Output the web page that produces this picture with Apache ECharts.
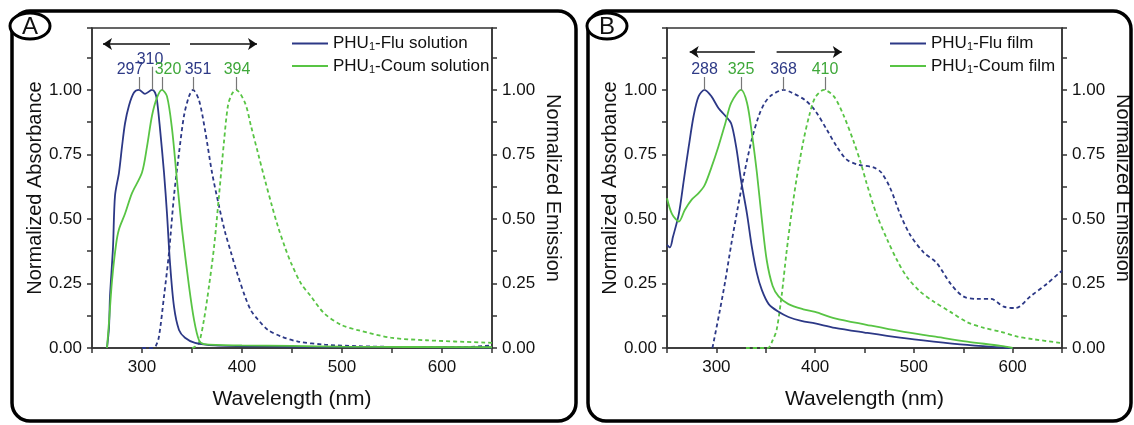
<!DOCTYPE html>
<html>
<head>
<meta charset="utf-8">
<script src="https://cdn.jsdelivr.net/npm/echarts@6/dist/echarts.min.js"></script>
<style>
html, body { margin: 0; padding: 0; background: #fff; }
#chart { width: 1134px; height: 425px; }
</style>
</head>
<body>
<div id="chart"></div>
<script>
// --- data: [wavelength nm, normalized value] ---
// panel A, solution
var fluSolAbs = [[265,0],[267,0.08],[268,0.2],[271,0.39],[273,0.59],[277,0.68],[280,0.78],[283,0.87],[287,0.94],[292,0.99],[297,1.0],[303,0.985],[310,1.0],[313,0.99],[315,0.96],[318,0.85],[322,0.68],[325,0.52],[328,0.33],[332,0.16],[337,0.07],[343,0.04],[353,0.02],[373,0.01],[420,0.006],[500,0.004],[650,0.002]];
var coumSolAbs = [[265,0],[267,0.1],[270,0.26],[274,0.4],[277,0.46],[283,0.52],[290,0.6],[300,0.68],[305,0.78],[310,0.9],[315,0.97],[320,1.0],[325,0.975],[330,0.85],[335,0.65],[340,0.46],[347,0.24],[352,0.11],[357,0.03],[362,0.015],[400,0.01],[450,0.008],[500,0.005],[650,0.003]];
var fluSolEm = [[300,0],[310,0],[314,0.01],[317,0.045],[322,0.2],[327,0.37],[332,0.59],[337,0.755],[342,0.9],[347,0.975],[351,1.0],[357,0.96],[363,0.845],[370,0.68],[377,0.55],[383,0.45],[389,0.37],[396,0.28],[403,0.2],[409,0.145],[416,0.11],[426,0.07],[439,0.045],[456,0.025],[483,0.013],[516,0.007],[560,0.004],[620,0.003],[650,0.01]];
var coumSolEm = [[350,0],[353,0.005],[357,0.02],[362,0.11],[367,0.24],[372,0.39],[377,0.59],[382,0.8],[386,0.94],[390,0.985],[394,1.0],[403,0.95],[409,0.86],[416,0.755],[423,0.65],[430,0.55],[436,0.47],[443,0.39],[449,0.33],[459,0.25],[469,0.2],[482,0.135],[499,0.09],[517,0.068],[549,0.04],[584,0.03],[650,0.02]];
// panel B, film
var fluFilmAbs = [[250,0.4],[253,0.39],[256,0.43],[262,0.52],[267,0.65],[272,0.78],[277,0.9],[282,0.975],[288,1.0],[295,0.975],[302,0.93],[309,0.9],[315,0.87],[320,0.78],[325,0.65],[331,0.52],[336,0.39],[341,0.29],[346,0.225],[353,0.17],[363,0.14],[373,0.12],[386,0.105],[400,0.095],[420,0.078],[450,0.06],[486,0.04],[520,0.025],[554,0.012],[588,0.002],[600,0]];
var coumFilmAbs = [[250,0.58],[255,0.52],[262,0.49],[268,0.535],[275,0.575],[282,0.6],[288,0.63],[295,0.7],[302,0.78],[309,0.87],[315,0.95],[325,1.0],[331,0.95],[336,0.83],[341,0.68],[346,0.5],[351,0.34],[357,0.24],[363,0.2],[373,0.17],[388,0.15],[400,0.14],[420,0.115],[452,0.09],[486,0.065],[520,0.045],[554,0.025],[588,0.008],[600,0]];
var fluFilmEm = [[296,0],[303,0.135],[309,0.26],[315,0.4],[322,0.55],[329,0.69],[336,0.81],[343,0.9],[349,0.95],[356,0.98],[368,1.0],[376,0.99],[390,0.96],[400,0.92],[412,0.845],[422,0.78],[432,0.73],[444,0.71],[459,0.7],[467,0.68],[476,0.62],[486,0.52],[496,0.44],[510,0.37],[523,0.33],[537,0.25],[550,0.2],[564,0.19],[578,0.19],[591,0.16],[603,0.155],[618,0.2],[635,0.25],[650,0.3]];
var coumFilmEm = [[330,0],[352,0],[357,0.03],[361,0.07],[366,0.2],[371,0.37],[376,0.52],[381,0.65],[388,0.8],[394,0.9],[400,0.97],[409,1.0],[419,0.975],[429,0.9],[439,0.8],[446,0.72],[452,0.64],[462,0.52],[473,0.42],[483,0.34],[493,0.275],[506,0.22],[520,0.18],[537,0.14],[554,0.1],[571,0.078],[588,0.063],[604,0.045],[621,0.034],[648,0.02]];

// peak annotations
var peaksA = [297, 310, 320, 351, 394];
var peaksB = [288, 325, 368, 410];

var font = 'Liberation Sans, Arial, sans-serif';
var navy = '#2c3886';
var green = '#58c444';
var navyText = '#2e3a86';
var greenText = '#3fa83a';
var axisColor = '#333';

function xAxisFor(g) {
    return {
        type: 'value', gridIndex: g, min: 250, max: 650, interval: 50,
        name: 'Wavelength (nm)', nameLocation: 'middle', nameGap: 41,
        nameTextStyle: { fontSize: 21, color: '#111' },
        axisLine: { show: true, onZero: false, lineStyle: { color: axisColor, width: 1.5 } },
        axisTick: { show: true, length: 5, lineStyle: { color: axisColor, width: 1.5 } },
        axisLabel: { fontSize: 17, color: '#111', margin: 11,
            formatter: function (v) { return v % 100 === 0 ? String(v) : ''; } },
        splitLine: { show: false }
    };
}

function yAxisFor(g, right) {
    return {
        type: 'value', gridIndex: g, min: 0, max: 1.24, interval: 0.25,
        position: right ? 'right' : 'left',
        name: right ? 'Normalized Emission' : 'Normalized Absorbance',
        nameLocation: 'middle', nameGap: right ? 51 : 47,
        nameRotate: right ? -90 : 90,
        nameTextStyle: { fontSize: 20, color: '#111' },
        axisLine: { show: true, onZero: false, lineStyle: { color: axisColor, width: 1.5 } },
        axisTick: { show: true, length: 5, lineStyle: { color: axisColor, width: 1.5 } },
        minorTick: { show: true, splitNumber: 2, length: 5, lineStyle: { color: axisColor, width: 1.5 } },
        axisLabel: { fontSize: 17, color: '#111', margin: 10,
            formatter: function (v) {
                var k = v / 0.25;
                return Math.abs(k - Math.round(k)) < 1e-6 ? v.toFixed(2) : '';
            } },
        splitLine: { show: false }
    };
}

function line(name, data, color, g, yIdx, dashed) {
    return {
        type: 'line', name: name, data: data,
        xAxisIndex: g, yAxisIndex: yIdx,
        symbol: 'none', smooth: 0.3,
        lineStyle: { color: color, width: 1.8, type: dashed ? [4, 3] : 'solid' },
        itemStyle: { color: color },
        z: dashed ? 3 : 4
    };
}

function peakLines(list, tops) {
    return list.map(function (p, i) {
        return [{ coord: [p, 1.0] }, { coord: [p, tops[i]] }];
    });
}

function peakLabels(list, tops, colors, dx) {
    return list.map(function (p, i) {
        return {
            coord: [p, tops[i]], value: p,
            label: { color: colors[i], offset: [dx[i], 0] }
        };
    });
}

function arrows(y, pairs) {
    return pairs.map(function (pr) {
        return [{ coord: [pr[0], y], symbol: 'none' }, { coord: [pr[1], y], symbol: 'arrow' }];
    });
}

var topsA = [1.05, 1.09, 1.05, 1.05, 1.05];
var topsB = [1.05, 1.05, 1.05, 1.05];
var colA = [navyText, navyText, greenText, navyText, greenText];
var colB = [navyText, greenText, navyText, greenText];

var markStyle = {
    silent: true, symbol: 'none', animation: false,
    lineStyle: { color: '#777', width: 1.2, type: 'solid' },
    label: { show: false }
};
var arrowStyle = {
    silent: true, symbol: 'none', symbolSize: 9, animation: false,
    lineStyle: { color: '#111', width: 1.5, type: 'solid' },
    label: { show: false }
};
var pointStyle = {
    silent: true, symbol: 'circle', symbolSize: 0, animation: false,
    itemStyle: { color: 'rgba(0,0,0,0)' },
    label: { show: true, position: 'top', distance: -1, fontSize: 16, formatter: '{c}' }
};

function withMarks(s, lines, points) {
    s.markLine = Object.assign({}, markStyle, { data: lines });
    s.markPoint = Object.assign({}, pointStyle, { data: points });
    return s;
}

// series A
var sA1 = line('PHU1-Flu solution', fluSolAbs, navy, 0, 0, false);
var sA2 = line('PHU1-Coum solution', coumSolAbs, green, 0, 0, false);
var sA3 = line('PHU1-Flu solution', fluSolEm, navy, 0, 1, true);
var sA4 = line('PHU1-Coum solution', coumSolEm, green, 0, 1, true);
withMarks(sA2, peakLines(peaksA, topsA), peakLabels(peaksA, topsA, colA, [-9, -2, 6, 5, 1]));
sA4.markLine = Object.assign({}, arrowStyle, { data: arrows(1.178, [[328, 261], [348, 415]]) });

// series B
var sB1 = line('PHU1-Flu film', fluFilmAbs, navy, 1, 2, false);
var sB2 = line('PHU1-Coum film', coumFilmAbs, green, 1, 2, false);
var sB3 = line('PHU1-Flu film', fluFilmEm, navy, 1, 3, true);
var sB4 = line('PHU1-Coum film', coumFilmEm, green, 1, 3, true);
withMarks(sB2, peakLines(peaksB, topsB), peakLabels(peaksB, topsB, colB, [0, 0, 0, 0]));
sB4.markLine = Object.assign({}, arrowStyle, { data: arrows(1.147, [[339, 273], [361, 427]]) });

function legendFor(names, left) {
    return {
        data: names, orient: 'vertical', left: left, top: 30,
        icon: 'rect', itemWidth: 36, itemHeight: 2, itemGap: 5,
        textStyle: { fontSize: 17, color: '#111', fontFamily: font,
            rich: { s: { fontSize: 11, padding: [7, 0, 0, 0], fontFamily: font, color: '#111' } } },
        formatter: function (n) { return n.replace('PHU1', 'PHU{s|1}'); }
    };
}

function frame(x, w, letter, cx) {
    return [
        { type: 'rect', shape: { x: x, y: 11, width: w, height: 410, r: 18 },
          style: { fill: 'none', stroke: '#000', lineWidth: 3.5 }, z: 10 },
        { type: 'ellipse', shape: { cx: cx, cy: 26, rx: 20, ry: 13 },
          style: { fill: '#fff', stroke: '#000', lineWidth: 3 }, z: 11 },
        { type: 'text', x: cx, y: 27, z: 12,
          style: { text: letter, font: '24px ' + font, fill: '#111', align: 'center', verticalAlign: 'middle' } }
    ];
}

var chart = echarts.init(document.getElementById('chart'));
chart.setOption({
    animation: false,
    backgroundColor: '#fff',
    textStyle: { fontFamily: font },
    grid: [
        { left: 92, top: 28, width: 400, height: 320, show: true, borderColor: axisColor, borderWidth: 1.5, backgroundColor: 'transparent' },
        { left: 667, top: 28, width: 395, height: 320, show: true, borderColor: axisColor, borderWidth: 1.5, backgroundColor: 'transparent' }
    ],
    xAxis: [xAxisFor(0), xAxisFor(1)],
    yAxis: [yAxisFor(0, false), yAxisFor(0, true), yAxisFor(1, false), yAxisFor(1, true)],
    legend: [
        legendFor(['PHU1-Flu solution', 'PHU1-Coum solution'], 287),
        legendFor(['PHU1-Flu film', 'PHU1-Coum film'], 885)
    ],
    graphic: frame(12, 564, 'A', 30).concat(frame(588, 543, 'B', 607)),
    series: [sA1, sA2, sA3, sA4, sB1, sB2, sB3, sB4]
});
</script>
</body>
</html>
